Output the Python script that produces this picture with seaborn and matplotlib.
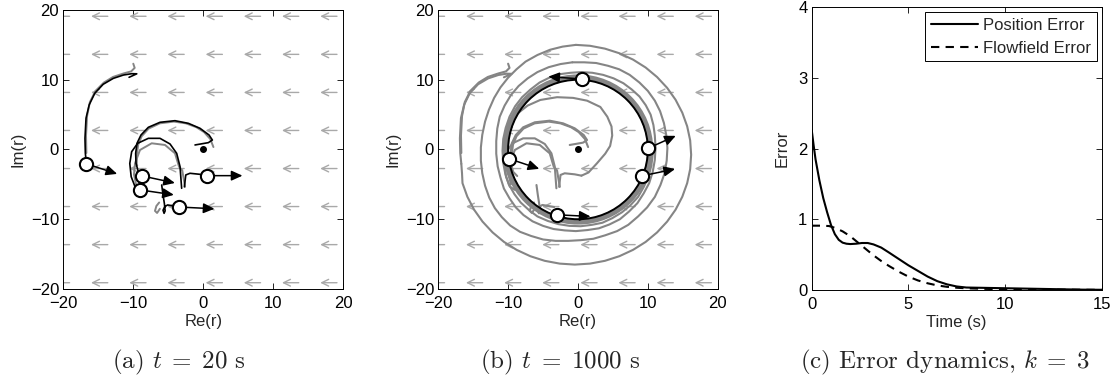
import matplotlib
matplotlib.use('Agg')
import matplotlib.pyplot as plt
from matplotlib.patches import Circle, FancyArrowPatch
import seaborn as sns

# --- flowfield grid (uniform flow to the left) ---
grid_pts = [-19.1, -13.64, -8.18, -2.73, 2.73, 8.18, 13.64, 19.1]
flow_u, flow_v = -2.4, 0.0

# --- panel (a), t = 20 s ---
pos_a_x = [-16.7, -8.7, -9.0, 0.5, -3.4]
pos_a_y = [-2.05, -3.8, -5.8, -3.75, -8.25]
head_a_x = [-12.3, -4.05, -4.2, 5.6, 1.6]
head_a_y = [-3.5, -4.8, -6.5, -3.75, -8.5]

# black trajectories (a)
t1_x = [-10.6, -9.5, -10.2, -11.4, -12.85, -14.3, -15.5, -16.3, -16.75, -16.9, -16.85, -16.7]
t1_y = [10.35, 10.85, 10.87, 10.68, 10.2, 9.35, 8.06, 6.4, 4.5, 1.6, -0.5, -2.05]
t2_x = [-1.18, 0.72, 1.3, 0.82, -0.47, -2.13, -4.04, -6.18, -7.85, -8.9, -9.47, -9.66, -9.61, -9.28, -8.7]
t2_y = [0.65, 0.98, 1.36, 2.08, 3.04, 3.75, 4.13, 3.9, 3.18, 2.08, 0.89, -0.55, -1.98, -3.2, -3.8]
t3_x = [-3.09, -3.18, -3.32, -3.8, -4.75, -6.18, -7.85, -9.37, -10.23, -10.5, -10.3, -9.75, -9.0]
t3_y = [-5.56, -4.37, -2.46, -0.55, 0.79, 1.6, 1.6, 0.89, -0.31, -2.0, -3.9, -5.33, -5.8]
t4_x = [-2.7, -2.5, -1.9, -0.47, 0.5]
t4_y = [-5.35, -3.65, -3.41, -3.56, -3.75]
t5_x = [-5.94, -5.75, -5.55, -5.45, -5.6, -5.75, -5.5, -5.1, -4.5, -3.4]
t5_y = [-5.09, -6.5, -7.8, -8.8, -9.15, -8.7, -8.2, -7.95, -8.05, -8.25]

# gray (earlier) traces (a)
g1_x = [-10.0, -9.8, -10.3, -11.4, -12.9, -14.2, -15.4, -16.2, -16.6, -16.75, -16.7]
g1_y = [12.3, 11.7, 11.2, 10.9, 10.4, 9.6, 8.4, 6.8, 4.8, 2.0, -0.5]
g2_x = [1.45, 1.0, 0.1, -1.0, -2.5, -4.2, -6.2, -7.8, -8.8, -9.3, -9.5, -9.5]
g2_y = [0.35, 1.5, 2.5, 3.2, 3.75, 4.0, 3.75, 3.0, 1.9, 0.7, -0.8, -2.3]
g3_x = [-2.6, -2.85, -3.0, -3.47, -4.04, -5.47, -7.37, -9.04, -9.75, -9.9, -9.6]
g3_y = [-5.35, -3.9, -3.0, -2.46, -0.55, 0.65, 0.89, -0.07, -1.98, -3.6, -5.0]
g5_x = [-6.3, -6.7, -6.9, -6.6, -6.2]
g5_y = [-7.6, -8.1, -8.8, -9.1, -8.5]

# --- panel (b), t = 1000 s ---
pos_b_x = [0.62, 10.07, 9.2, -9.83, -3.0]
pos_b_y = [10.1, 0.19, -3.77, -1.34, -9.36]
head_b_x = [-4.25, 14.0, 13.9, -5.54, 1.8]
head_b_y = [10.45, 1.96, -2.8, -2.77, -9.6]
cycle_radius = 10.0

# agent 1 spiralling in from outside: first, second and third turn
spiral1_x = [-16.7, -16.6, -16.53, -15.83, -14.87, -13.66, -12.22, -10.59, -8.78, -6.82, -4.76,
             -2.62, -0.45, 1.72, 3.86, 5.92, 7.88, 9.69, 11.32, 12.76, 13.97,
             14.93, 15.63, 16.06, 16.2, 16.06, 15.63, 14.93, 13.97, 12.76, 11.32,
             9.69, 7.88, 5.92, 3.86, 1.72, -0.3]
spiral1_y = [-2.05, -3.4, -4.83, -6.78, -8.63, -10.34, -11.89, -13.25, -14.39, -15.3, -15.96,
             -16.36, -16.5, -16.36, -15.96, -15.3, -14.39, -13.25, -11.89, -10.34, -8.63,
             -6.78, -4.83, -2.81, -0.75, 1.31, 3.33, 5.28, 7.13, 8.84, 10.39,
             11.75, 12.89, 13.8, 14.46, 14.87, 15.0]
spiral2_x = [-0.3, -2.2, -4.0, -5.8, -7.5, -8.8, -10.0, -11.1, -12.0, -12.75,
             -13.3, -13.7, -13.9, -13.9, -13.7, -13.3, -12.7, -11.9, -10.9, -9.7,
             -8.3, -6.7, -5.0, -3.2, -1.4, 0.4, 2.2, 3.9, 5.6, 7.2,
             8.6, 9.9, 11.0, 11.8, 12.4, 12.7, 12.8, 12.65, 12.3, 11.75,
             11.0, 10.0, 8.8, 7.4, 5.9, 4.3, 2.6, 0.9, -0.8]
spiral2_y = [15.0, 14.75, 14.3, 13.55, 12.6, 11.5, 10.3, 8.9, 7.4, 5.7,
             4.0, 2.1, 0.3, -1.6, -3.4, -5.2, -6.9, -8.4, -9.7, -10.9,
             -11.8, -12.4, -12.9, -13.1, -13.1, -13.0, -12.8, -12.3, -11.7, -10.8,
             -9.6, -8.3, -6.8, -5.1, -3.4, -1.6, 0.2, 2.0, 3.8, 5.5,
             7.0, 8.4, 9.6, 10.7, 11.5, 12.0, 12.4, 12.5, 12.5]
spiral3_x = [-0.8, -2.5, -4.2, -5.8, -7.2, -8.5, -9.6, -10.5, -11.2, -11.55,
             -11.7, -11.7, -11.5, -11.1, -10.6, -9.8, -8.9, -7.8, -6.5, -5.0,
             -3.5, -1.9, -0.3, 1.35, 3.0, 4.5, 6.0, 7.3, 8.5, 9.4,
             10.2, 10.7, 11.0, 11.1, 11.0, 10.8, 10.4, 9.7, 8.8, 7.7,
             6.5, 5.1, 3.6, 2.05, 0.5, -1.05, -2.6, -4.1, -5.5, -6.8,
             -8.0, -9.0, -9.8, -10.35, -10.7, -10.8, -10.7, -10.4, -9.9, -9.1,
             -8.2, -7.0, -5.8, -4.3, -2.8, -1.2, 0.4, 2.0, 3.5, 4.9,
             6.3, 7.5, 8.6, 9.4, 10.1, 10.5, 10.7]
spiral3_y = [12.5, 12.25, 11.8, 11.1, 10.2, 9.1, 7.8, 6.3, 4.7, 3.0,
             1.2, -0.6, -2.4, -4.0, -5.6, -7.0, -8.3, -9.4, -10.3, -10.95,
             -11.4, -11.6, -11.7, -11.55, -11.3, -10.75, -10.0, -8.9, -7.7, -6.3,
             -4.8, -3.2, -1.5, 0.25, 2.0, 3.5, 5.0, 6.35, 7.6, 8.6,
             9.5, 10.2, 10.7, 11.0, 11.1, 11.0, 10.8, 10.3, 9.6, 8.6,
             7.5, 6.2, 4.7, 3.1, 1.5, -0.2, -1.9, -3.5, -5.0, -6.4,
             -7.6, -8.7, -9.6, -10.25, -10.7, -10.95, -11.0, -10.8, -10.5, -9.85,
             -9.0, -8.0, -6.8, -5.4, -3.9, -2.3, -0.7]
# agent 4 looping round the centre
loop_x = [0.5, 1.5, 2.7, 3.9, 4.6, 4.9, 4.8, 4.2, 3.2, 1.3, -0.7, -3.0, -5.4, -7.2, -8.6, -9.6, -10.2, -10.4, -10.2]
loop_y = [-3.75, -3.3, -2.0, -0.6, 0.5, 2.0, 3.3, 4.7, 6.1, 7.0, 7.4, 7.5, 7.1, 6.3, 5.2, 3.8, 2.2, 0.5, -1.5]

# --- panel (c), error dynamics ---
pos_t = [0, 0.1, 0.2, 0.4, 0.6, 0.8, 1.0, 1.2, 1.4, 1.6, 1.8, 2.0, 2.3, 2.6, 2.9, 3.2, 3.6, 4.0,
         4.5, 5.0, 5.5, 6.0, 6.5, 7.0, 7.5, 8.0, 9.0, 10, 11, 12, 13, 14, 15]
pos_err = [2.27, 2.05, 1.85, 1.55, 1.3, 1.1, 0.92, 0.79, 0.71, 0.67, 0.655, 0.65, 0.655, 0.665, 0.665,
           0.645, 0.6, 0.53, 0.44, 0.35, 0.27, 0.19, 0.125, 0.08, 0.05, 0.035, 0.03, 0.025, 0.02,
           0.015, 0.01, 0.005, 0.003]
flow_t = [0, 0.5, 0.9, 1.2, 1.6, 2.0, 2.4, 2.8, 3.2, 3.6, 4.0, 4.5, 5.0, 5.5, 6.0, 6.5, 7.0, 7.5,
          8.0, 9, 10, 12, 15]
flow_err = [0.91, 0.91, 0.905, 0.88, 0.83, 0.76, 0.67, 0.58, 0.49, 0.41, 0.34, 0.26, 0.19, 0.135,
            0.095, 0.065, 0.045, 0.032, 0.024, 0.016, 0.011, 0.006, 0.002]

sns.set_theme(style='ticks', rc={
    'xtick.direction': 'in', 'ytick.direction': 'in',
    'xtick.top': True, 'ytick.right': True,
    'xtick.major.size': 4, 'ytick.major.size': 4,
    'xtick.major.width': 0.6, 'ytick.major.width': 0.6,
    'axes.linewidth': 0.7, 'axes.edgecolor': 'black',
    'xtick.color': 'black', 'ytick.color': 'black',
    'mathtext.fontset': 'cm',
    'lines.solid_joinstyle': 'round',
})
plt.rcParams['font.family'] = ['Liberation Sans', 'DejaVu Sans']

FLOW_GREY = '#a9a9a9'
TRAJ_GREY = '#858585'
FS = 12

fig = plt.figure(figsize=(11.2, 3.86), dpi=100)
ax_a = fig.add_axes([0.0565, 0.2513, 0.25, 0.7228])
ax_b = fig.add_axes([0.3913, 0.2513, 0.2495, 0.7228])
ax_c = fig.add_axes([0.7247, 0.2487, 0.2589, 0.7324])


def draw_flowfield(ax):
    for gx in grid_pts:
        for gy in grid_pts:
            ax.add_patch(FancyArrowPatch((gx, gy), (gx + flow_u, gy + flow_v),
                                         arrowstyle='->,head_length=0.45,head_width=0.22',
                                         mutation_scale=11, color=FLOW_GREY, lw=1.0,
                                         shrinkA=0, shrinkB=0, zorder=1))


def draw_agents(ax, px, py, hx, hy):
    for x0, y0, x1, y1 in zip(px, py, hx, hy):
        ax.add_patch(FancyArrowPatch((x0, y0), (x1, y1),
                                     arrowstyle='-|>,head_length=0.55,head_width=0.25',
                                     mutation_scale=12, color='black', lw=1.1,
                                     shrinkA=0, shrinkB=0, zorder=6))
    ax.plot(px, py, 'o', ms=9.5, mfc='white', mec='black', mew=1.5, zorder=7)
    ax.plot([0], [0], 'o', ms=4, color='black', zorder=5)


def line(ax, xs, ys, color, lw, z):
    sns.lineplot(x=xs, y=ys, sort=False, estimator=None, color=color, lw=lw, ax=ax, zorder=z)


def style_xy(ax):
    ax.set_xlim(-20, 20)
    ax.set_ylim(-20, 20)
    ax.set_xticks([-20, -10, 0, 10, 20])
    ax.set_yticks([-20, -10, 0, 10, 20])
    ax.set_xlabel('Re(r)', fontsize=FS, labelpad=2)
    ax.set_ylabel('Im(r)', fontsize=FS, labelpad=4)
    ax.tick_params(labelsize=FS, pad=3)
    ax.tick_params(axis='x', pad=5)


black_a = [(t1_x, t1_y), (t2_x, t2_y), (t3_x, t3_y), (t4_x, t4_y), (t5_x, t5_y)]
grey_a = [(g1_x, g1_y), (g2_x, g2_y), (g3_x, g3_y), (g5_x, g5_y)]
grey_b = [(spiral1_x, spiral1_y), (spiral2_x, spiral2_y), (spiral3_x, spiral3_y), (loop_x, loop_y)]

# (a)
draw_flowfield(ax_a)
for xs, ys in grey_a:
    line(ax_a, xs, ys, TRAJ_GREY, 1.4, 2)
for xs, ys in black_a:
    line(ax_a, xs, ys, 'black', 1.2, 3)
draw_agents(ax_a, pos_a_x, pos_a_y, head_a_x, head_a_y)
style_xy(ax_a)

# (b)
draw_flowfield(ax_b)
for xs, ys in grey_a + black_a + grey_b:
    line(ax_b, xs, ys, TRAJ_GREY, 1.5, 2)
ax_b.add_patch(Circle((0, 0), cycle_radius + 0.35, fill=False, ec=TRAJ_GREY, lw=4.2, zorder=3))
ax_b.add_patch(Circle((0, 0), cycle_radius, fill=False, ec='black', lw=1.4, zorder=4))
draw_agents(ax_b, pos_b_x, pos_b_y, head_b_x, head_b_y)
style_xy(ax_b)

# (c)
sns.lineplot(x=pos_t, y=pos_err, color='black', lw=1.5, ax=ax_c, label='Position Error')
sns.lineplot(x=flow_t, y=flow_err, color='black', lw=1.5, ax=ax_c, label='Flowfield Error',
             linestyle='--')
ax_c.lines[1].set_dashes([4, 3])
ax_c.set_xlim(0, 15)
ax_c.set_ylim(0, 4)
ax_c.set_xticks([0, 5, 10, 15])
ax_c.set_yticks([0, 1, 2, 3, 4])
ax_c.set_xlabel('Time (s)', fontsize=FS, labelpad=2)
ax_c.set_ylabel('Error', fontsize=FS, labelpad=6)
ax_c.tick_params(labelsize=FS, pad=3)
ax_c.tick_params(axis='x', pad=5)
leg = ax_c.legend(loc='upper right', fontsize=FS, frameon=True, fancybox=False,
                  framealpha=1, edgecolor='black', borderaxespad=0.3, handlelength=2.8,
                  borderpad=0.35, labelspacing=0.45, handletextpad=0.3)
leg.get_frame().set_linewidth(0.7)
leg.get_lines()[1].set_dashes([4, 3])

cap = dict(family='cmr10', fontsize=18, ha='center', va='center')
fig.text(0.160, 0.06, r'(a) $t\;=\;20$ s', **cap)
fig.text(0.500, 0.06, r'(b) $t\;=\;1000$ s', **cap)
fig.text(0.844, 0.06, r'(c) Error dynamics, $k\;=\;3$', **cap)

fig.savefig('out.png', dpi=100)
